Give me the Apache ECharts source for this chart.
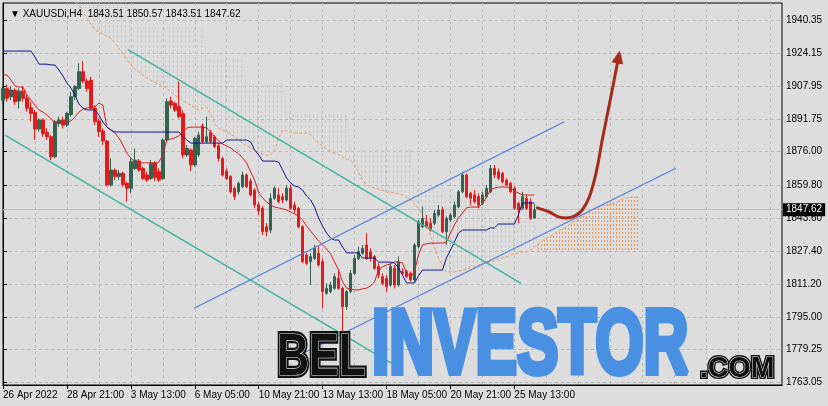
<!DOCTYPE html>
<html>
<head>
<meta charset="utf-8">
<script src="https://cdn.jsdelivr.net/npm/echarts@6/dist/echarts.min.js"></script>
<style>
  html, body { margin: 0; padding: 0; background: #dddddd; }
  #chart { width: 828px; height: 406px; }
</style>
</head>
<body>
<div id="chart"></div>
<script>
// XAUUSDi H4, 26 Apr - 25 May 2022, ichimoku + channels
const xLabels = ['26 Apr 2022', '28 Apr 21:00', '3 May 13:00', '6 May 05:00', '10 May 21:00',
  '13 May 13:00', '18 May 05:00', '20 May 21:00', '25 May 13:00'];
const yTicks = [1940.35, 1924.15, 1907.95, 1891.75, 1876.00, 1859.80, 1843.60, 1827.40, 1811.20, 1795.00, 1779.25, 1763.05];
const lastPrice = 1847.62;

const opens = [
  1901.2,1906.9,1902.9,1906.1,1900.8,1905.6,1902.1,1897.5,1895.2,1887.1,
  1891.5,1885.4,1883.3,1873.5,1889.8,1891.5,1889.0,1894.2,1902.9,1906.9,
  1915.1,1910.5,1911.0,1897.2,1891.0,1886.1,1881.2,1859.7,1867.0,1863.8,
  1865.4,1860.5,1858.1,1867.8,1871.4,1867.8,1864.6,1862.9,1870.3,1866.2,
  1862.9,1881.7,1900.8,1899.6,1898.0,1894.7,1874.4,1876.8,1869.5,1874.4,
  1888.7,1880.9,1885.4,1883.3,1878.9,1872.7,1866.5,1863.8,1858.1,1856.4,
  1858.9,1864.6,1861.6,1857.2,1850.0,1848.3,1839.3,1837.7,1853.2,1854.8,
  1854.0,1852.4,1858.1,1849.9,1848.3,1839.3,1825.5,1822.2,1823.8,1826.3,
  1822.2,1806.8,1807.6,1809.2,1814.1,1809.2,1800.2,1807.6,1816.5,1823.8,
  1826.3,1830.4,1827.1,1824.7,1819.8,1814.9,1814.1,1810.8,1819.0,1810.8,
  1817.3,1817.3,1816.5,1813.3,1829.6,1839.3,1841.8,1841.0,1841.0,1845.0,
  1847.5,1836.9,1842.6,1844.2,1849.1,1856.4,1864.6,1855.6,1854.8,1854.0,
  1850.7,1854.0,1856.4,1867.8,1866.2,1865.4,1862.1,1860.5,1858.1,1850.7,
  1848.3,1853.2,1851.6,1843.51
];
const closes = [
  1906.9,1902.1,1906.1,1900.4,1905.6,1902.1,1897.2,1894.7,1887.1,1891.5,
  1884.9,1883.3,1873.5,1890.7,1891.5,1889.0,1894.7,1902.9,1907.8,1915.1,
  1910.5,1906.9,1897.2,1890.7,1885.8,1881.2,1859.7,1867.0,1863.8,1865.4,
  1860.0,1858.1,1871.1,1871.9,1867.0,1862.9,1862.1,1870.3,1863.3,1862.1,
  1881.7,1900.4,1898.8,1896.3,1893.1,1874.4,1877.6,1869.5,1882.5,1884.1,
  1880.9,1883.3,1880.9,1878.4,1872.7,1864.6,1862.9,1856.4,1854.0,1860.5,
  1864.6,1858.9,1854.8,1849.9,1847.0,1836.9,1836.9,1853.2,1858.1,1851.6,
  1852.4,1858.1,1848.3,1847.5,1839.3,1822.2,1821.4,1824.7,1828.7,1820.6,
  1807.6,1809.2,1810.8,1814.9,1809.2,1800.2,1807.6,1816.5,1823.8,1827.1,
  1828.7,1823.8,1823.8,1819.0,1815.7,1811.6,1810.0,1819.8,1810.8,1822.2,
  1816.5,1814.9,1813.3,1830.4,1841.8,1843.4,1839.3,1837.7,1845.9,1847.5,
  1836.9,1843.4,1845.0,1849.9,1856.4,1864.6,1854.0,1853.2,1851.6,1849.9,
  1854.8,1858.1,1867.8,1864.6,1863.0,1861.3,1859.7,1856.4,1848.3,1847.5,
  1854.0,1848.3,1843.4,1847.62
];
const highs = [
  1908.3,1908.9,1907.8,1906.9,1906.9,1907.8,1903.7,1900.4,1896.3,1892.3,
  1892.3,1887.4,1884.1,1891.5,1893.1,1893.1,1895.5,1905.3,1908.6,1919.2,
  1920.3,1911.8,1912.6,1898.8,1892.3,1887.4,1881.7,1872.7,1867.8,1867.0,
  1866.2,1861.3,1872.7,1877.6,1872.4,1868.7,1866.2,1871.9,1871.4,1867.8,
  1882.5,1902.1,1902.9,1900.4,1910.2,1896.3,1879.2,1877.6,1883.3,1885.8,
  1889.8,1893.1,1886.6,1884.1,1880.1,1873.5,1867.8,1864.6,1858.9,1861.3,
  1866.2,1865.4,1862.9,1858.1,1851.5,1849.5,1841.0,1855.6,1859.0,1858.1,
  1855.6,1859.7,1859.7,1851.6,1849.1,1840.1,1826.3,1826.3,1830.4,1829.6,
  1823.8,1811.6,1812.4,1816.5,1818.1,1810.0,1808.4,1818.1,1825.5,1829.6,
  1830.4,1836.1,1828.7,1825.5,1821.4,1816.5,1815.7,1821.4,1820.6,1824.7,
  1819.0,1818.1,1817.3,1831.2,1842.6,1849.1,1845.0,1843.4,1847.5,1849.9,
  1849.1,1844.2,1845.9,1851.6,1857.3,1866.2,1865.4,1856.4,1857.3,1855.6,
  1856.4,1859.7,1869.5,1869.5,1867.8,1866.2,1863.0,1861.3,1859.0,1851.6,
  1856.4,1854.8,1853.2,1850.57
];
const lows = [
  1899.6,1900.4,1901.2,1898.8,1897.2,1900.4,1895.5,1890.7,1881.7,1885.8,
  1883.3,1881.7,1871.9,1872.7,1888.2,1887.4,1888.2,1893.1,1901.2,1906.1,
  1909.4,1905.3,1896.3,1889.0,1883.3,1879.2,1858.9,1858.9,1862.1,1862.1,
  1858.9,1851.5,1855.6,1867.0,1866.2,1862.1,1861.3,1862.1,1861.6,1861.3,
  1862.1,1880.9,1897.2,1895.5,1892.3,1872.7,1873.5,1866.5,1868.7,1873.5,
  1880.1,1880.1,1880.1,1877.6,1871.1,1863.8,1862.1,1855.6,1852.4,1855.1,
  1858.1,1858.1,1854.0,1848.3,1845.0,1835.3,1834.5,1836.1,1852.4,1850.7,
  1850.7,1851.6,1847.5,1845.9,1838.5,1821.4,1820.6,1810.8,1823.0,1819.8,
  1799.4,1806.0,1806.8,1808.4,1808.4,1788.0,1798.6,1806.8,1815.7,1823.0,
  1825.5,1823.0,1822.2,1818.1,1814.1,1810.8,1807.6,1810.0,1809.2,1810.0,
  1815.7,1814.1,1812.4,1812.4,1828.7,1838.5,1838.5,1836.9,1840.1,1844.2,
  1836.1,1830.4,1841.8,1843.4,1848.3,1855.6,1853.2,1849.9,1850.7,1848.3,
  1849.9,1853.2,1855.6,1863.0,1862.1,1860.5,1858.9,1855.6,1847.5,1841.0,
  1847.5,1847.5,1842.6,1843.51
];

// tenkan-sen (red) and kijun-sen (navy)
const tenkan = [
  1913.5,1913.5,1911.0,1908.1,1907.6,1907.6,1903.7,1901.2,1898.8,1896.4,
  1895.4,1893.9,1892.0,1890.0,1890.0,1890.0,1890.5,1891.0,1892.9,1895.4,
  1896.8,1897.3,1897.8,1897.8,1899.8,1898.8,1888.0,1886.6,1885.1,1882.7,
  1879.3,1875.3,1872.9,1870.9,1870.9,1870.5,1870.5,1870.5,1870.5,1870.9,
  1874.4,1881.7,1882.2,1882.7,1883.7,1885.6,1887.6,1888.0,1888.0,1888.0,
  1888.0,1887.6,1885.6,1883.2,1881.2,1879.7,1878.8,1877.8,1876.3,1874.9,
  1872.9,1870.5,1866.1,1862.1,1855.8,1853.3,1851.4,1849.9,1848.9,1848.5,
  1848.0,1847.5,1846.5,1845.5,1844.5,1842.6,1839.7,1837.2,1834.8,1832.3,
  1830.4,1828.4,1826.0,1822.1,1818.1,1812.3,1809.3,1808.9,1808.4,1808.4,
  1808.9,1809.3,1810.3,1812.3,1818.1,1819.6,1820.6,1821.1,1822.1,1822.1,
  1821.6,1816.7,1814.7,1817.2,1825.5,1830.4,1830.9,1831.3,1831.3,1831.3,
  1831.3,1831.8,1836.2,1840.1,1843.6,1846.0,1848.5,1848.9,1848.9,1848.9,
  1850.4,1853.8,1857.3,1858.2,1858.7,1858.7,1858.7,1858.2,1856.8,1855.8,
  1854.8,1854.8,1854.8,1854.8
];
const kijun = [
  1925.2,1925.2,1925.2,1925.2,1925.2,1925.2,1925.2,1925.2,1922.3,1918.8,
  1918.8,1918.8,1918.4,1918.4,1915.9,1913.0,1909.6,1907.1,1903.7,1899.3,
  1897.3,1896.4,1896.4,1896.4,1893.9,1890.5,1888.1,1886.6,1885.6,1885.6,
  1885.6,1885.6,1885.6,1885.6,1885.6,1885.6,1885.6,1885.6,1885.6,1885.6,
  1885.6,1885.6,1885.6,1885.6,1885.6,1883.6,1881.7,1880.2,1880.2,1880.2,
  1880.2,1880.2,1880.2,1880.2,1880.2,1880.2,1881.7,1881.7,1881.7,1881.7,
  1881.7,1881.7,1880.7,1876.8,1874.4,1871.4,1871.4,1871.4,1871.4,1870.9,
  1867.0,1863.1,1860.7,1859.2,1858.7,1857.2,1854.3,1852.4,1848.9,1843.6,
  1839.6,1836.2,1833.8,1832.8,1832.8,1829.4,1826.5,1826.5,1826.5,1826.5,
  1824.0,1824.0,1824.0,1824.0,1822.0,1822.0,1822.0,1822.0,1821.6,1819.1,
  1815.7,1811.8,1811.8,1811.8,1815.2,1818.1,1818.1,1818.1,1818.1,1818.1,
  1818.1,1824.0,1827.9,1831.8,1836.2,1837.7,1837.7,1837.7,1837.7,1837.7,
  1837.7,1837.7,1838.7,1838.7,1840.6,1840.6,1840.6,1840.6,1840.6,1845.0,
  1850.9,1850.9,1850.9,1850.9
];

// senkou span A / B (shifted 26 bars ahead)
const spanA = [
  null,null,null,null,null,null,null,null,null,null,
  null,null,null,null,null,null,null,null,1948.9,1947.7,
  1944.3,1941.3,1938.4,1935.5,1934.5,1933.5,1932.5,1931.6,1929.1,1926.7,
  1923.7,1920.8,1918.4,1916.4,1915.0,1913.5,1912.0,1911.0,1910.0,1909.1,
  1908.1,1907.1,1905.2,1903.7,1902.2,1900.8,1899.8,1898.8,1897.3,1896.4,
  1897.3,1897.8,1893.9,1889.5,1887.6,1886.6,1885.6,1884.6,1883.2,1881.7,
  1880.2,1878.8,1877.8,1876.8,1875.8,1874.8,1874.4,1874.4,1876.8,1882.7,
  1886.6,1886.1,1885.6,1885.1,1885.1,1885.1,1885.1,1884.1,1882.2,1880.2,
  1878.8,1877.3,1876.3,1875.3,1874.4,1873.4,1872.4,1871.9,1869.5,1866.0,
  1862.1,1859.7,1858.7,1858.2,1857.7,1857.2,1856.2,1856.2,1855.8,1855.3,
  1854.8,1853.8,1852.4,1850.4,1848.4,1845.0,1841.6,1835.2,1828.9,1824.0,
  1820.1,1817.2,1817.2,1817.2,1817.6,1818.1,1818.6,1819.1,1819.6,1820.6,
  1821.1,1821.6,1822.0,1822.5,1823.5,1824.0,1824.5,1825.5,1826.0,1826.5,
  1826.9,1826.9,1827.9,1829.4,1830.9,1832.3,1833.8,1834.8,1835.7,1837.2,
  1838.2,1839.2,1840.6,1842.1,1843.6,1844.6,1846.0,1847.0,1848.4,1848.9,
  1849.4,1849.9,1850.4,1850.9,1851.8,1852.8,1853.3,1853.8,1853.8,1853.8
];
const spanB = [
  null,null,null,null,null,null,null,null,null,null,
  null,null,null,null,null,null,null,null,1949.0,1949.0,
  1949.0,1949.0,1949.0,1949.0,1949.0,1949.0,1949.0,1949.0,1949.0,1949.0,
  1949.0,1949.0,1936.4,1936.4,1936.4,1936.4,1936.4,1936.4,1936.4,1936.4,
  1936.4,1936.4,1936.4,1936.4,1936.4,1936.4,1936.4,1936.4,1936.4,1936.4,
  1936.4,1920.8,1920.8,1920.8,1920.8,1920.8,1920.8,1920.8,1920.8,1920.8,
  1920.8,1908.6,1908.6,1908.6,1908.6,1908.6,1908.6,1908.6,1908.6,1908.6,
  1908.6,1893.9,1893.9,1893.9,1893.9,1893.9,1893.9,1893.9,1893.9,1893.9,
  1893.9,1893.9,1893.9,1893.9,1893.9,1893.9,1893.9,1876.8,1876.8,1876.8,
  1876.8,1876.8,1876.8,1876.8,1876.8,1876.8,1876.8,1876.8,1876.8,1876.8,
  1876.8,1876.8,1876.8,1858.2,1858.2,1858.2,1858.2,1858.2,1858.2,1858.2,
  1858.2,1852.4,1852.4,1852.4,1852.4,1852.4,1852.4,1852.4,1852.4,1852.4,
  1852.4,1852.4,1841.6,1841.6,1841.6,1841.6,1841.6,1841.6,1841.6,1841.6,
  1841.6,1841.6,1841.6,1841.6,1826.9,1826.9,1826.9,1826.9,1826.9,1826.9,
  1826.9,1826.9,1826.9,1826.9,1826.9,1826.9,1826.9,1826.9,1826.9,1826.9,
  1826.9,1826.9,1826.9,1826.9,1826.9,1826.9,1826.9,1826.9,1826.9,1826.9
];

// drawn trend channels: [bar index, price] end points
const tealUpper = [[31.18, 1926.03], [129.68, 1811.64]];
const tealLower = [[0.5, 1884.13], [98.75, 1770.73]];
const blueUpper = [[47.83, 1799.42], [140.5, 1890.64]];
const blueLower = [[74.25, 1776.59], [168.43, 1867.86]];
// forecast arrow
const arrowPath = [[133.75, 1848.5], [136.75, 1846.5], [139.25, 1844.0], [141, 1843.6], [143, 1844.5],
  [145, 1847.5], [146.75, 1853.8], [148.5, 1866.0], [150, 1881.7], [152.25, 1903.7], [154.1, 1922.3]];

const nSlots = 196;
var cats = [];
for (var i = 0; i < nSlots; i++) cats.push(String(i));

var candles = opens.map((o, i) => [o, closes[i], lows[i], highs[i]]);
var cloudBase = spanA.map((a, i) => a == null ? null : Math.min(a, spanB[i]));
var cloudBear = spanA.map((a, i) => a == null ? null : Math.max(spanB[i] - a, 0));
var cloudBull = spanA.map((a, i) => a == null ? null : Math.max(a - spanB[i], 0));

function hatch(color, w, h, dash) {
  var c = document.createElement('canvas');
  c.width = w; c.height = h;
  var ctx = c.getContext('2d');
  ctx.fillStyle = color;
  ctx.fillRect(1, 0, 1, dash);
  return c;
}

var arrowData = arrowPath.map((p, i) => i === arrowPath.length - 1
  ? { value: p, symbol: 'triangle', symbolSize: [12, 13], symbolRotate: -11, itemStyle: { color: '#a52c1c' } }
  : { value: p, symbol: 'none' });

function chan(data, color, width) {
  return {
    type: 'line', xAxisIndex: 1, data: data, symbol: 'none', silent: true, z: 4,
    lineStyle: { color: color, width: width }
  };
}

const FONT = 'Liberation Sans';
var myChart = echarts.init(document.getElementById('chart'));
var option = {
  backgroundColor: '#dddddd',
  animation: false,
  textStyle: { fontFamily: FONT },
  title: {
    text: '\u25BC XAUUSDi,H4  1843.51 1850.57 1843.51 1847.62',
    left: 5, top: 4,
    textStyle: { fontSize: 10, fontWeight: 'normal', color: '#000', fontFamily: FONT }
  },
  grid: { left: 3, right: 46, top: 3, bottom: 21, show: true, borderColor: '#000', borderWidth: 1 },
  xAxis: [
    {
      type: 'category', data: cats, boundaryGap: false,
      axisLine: { lineStyle: { color: '#000' } },
      axisTick: { interval: (idx) => idx % 16 === 0 && idx <= 128, length: 4, lineStyle: { color: '#000' } },
      axisLabel: {
        interval: (idx) => idx % 16 === 0 && idx <= 128,
        formatter: (v, idx) => xLabels[idx / 16] || '',
        align: 'left', color: '#000', fontSize: 10, margin: 5
      },
      splitLine: { show: true, interval: (idx) => idx % 8 === 0 && idx > 0, lineStyle: { color: '#bababa', type: [3, 3] } }
    },
    { type: 'value', min: 0, max: nSlots - 1, show: false }
  ],
  yAxis: {
    type: 'value', position: 'right', min: 1761.9, max: 1948.7,
    axisLine: { show: true, lineStyle: { color: '#000' } },
    axisTick: { show: true, customValues: yTicks, length: 4, lineStyle: { color: '#000' } },
    axisLabel: { customValues: yTicks, formatter: (v) => v.toFixed(2), color: '#000', fontSize: 10, margin: 4 },
    splitLine: { show: true, lineStyle: { color: '#bababa', type: [3, 3] } }
  },
  graphic: [
    { type: 'text', x: 372, y: 348, scaleX: 0.69, z: 100,
      style: { text: 'INVESTOR', font: 'bold 90px "Liberation Sans"', fill: '#4a90e2', stroke: '#4a90e2', lineWidth: 6, verticalAlign: 'middle' } },
    { type: 'text', x: 277, y: 358, scaleX: 0.74, z: 100,
      style: { text: 'BEL', font: 'bold 60px "Liberation Sans"', fill: '#111', stroke: '#111', lineWidth: 6, verticalAlign: 'middle' } },
    { type: 'text', x: 277, y: 358, scaleX: 0.74, z: 101,
      style: { text: 'BEL', font: 'bold 60px "Liberation Sans"', fill: '#111', stroke: '#e4e4e4', lineWidth: 1.2, verticalAlign: 'middle' } },
    { type: 'text', x: 700, y: 369, scaleX: 0.95, z: 100,
      style: { text: '.COM', font: 'bold 30px "Liberation Sans"', fill: '#111', stroke: '#111', lineWidth: 4, verticalAlign: 'middle' } },
    { type: 'text', x: 700, y: 369, scaleX: 0.95, z: 101,
      style: { text: '.COM', font: 'bold 30px "Liberation Sans"', fill: '#111', stroke: '#e4e4e4', lineWidth: 1, verticalAlign: 'middle' } }
  ],
  series: [
    { type: 'line', data: cloudBase, stack: 'cloud', symbol: 'none', silent: true, z: 1, lineStyle: { opacity: 0 } },
    { type: 'line', data: cloudBear, stack: 'cloud', symbol: 'none', silent: true, z: 1, lineStyle: { opacity: 0 },
      areaStyle: { color: { image: hatch('#d6c2da', 4, 5, 3), repeat: 'repeat' }, opacity: 1 } },
    { type: 'line', data: cloudBull, stack: 'cloud', symbol: 'none', silent: true, z: 1, lineStyle: { opacity: 0 },
      areaStyle: { color: { image: hatch('#ee9650', 3, 4, 2), repeat: 'repeat' }, opacity: 1 } },
    { type: 'line', data: spanA, symbol: 'none', silent: true, z: 1, lineStyle: { color: '#ec9a5c', width: 1, type: [3, 2] } },
    { type: 'line', data: spanB, symbol: 'none', silent: true, z: 1, lineStyle: { color: '#d3bcd8', width: 1, type: [1, 2] } },
    {
      type: 'candlestick', data: candles, barWidth: 3, z: 3,
      itemStyle: { color: '#34644f', color0: '#e31b1b', borderColor: '#34644f', borderColor0: '#e31b1b', borderWidth: 1 },
      markLine: {
        silent: true, symbol: ['none', 'none'], z: 1,
        data: [{ yAxis: lastPrice }],
        lineStyle: { color: '#c4c4c4', type: 'solid', width: 1 },
        label: { position: 'end', distance: 1, formatter: lastPrice.toFixed(2), backgroundColor: '#000', color: '#fff', fontSize: 10, padding: [2, 3, 1, 3] }
      }
    },
    { type: 'line', data: tenkan, symbol: 'none', silent: true, z: 4, lineStyle: { color: '#d91c1c', width: 1 } },
    { type: 'line', data: kijun, symbol: 'none', silent: true, z: 4, lineStyle: { color: '#10128f', width: 1 } },
    chan(tealUpper, '#3fb59d', 1.5),
    chan(tealLower, '#3fb59d', 1.5),
    chan(blueUpper, '#4d7fdc', 1.2),
    chan(blueLower, '#4d7fdc', 1.2),
    {
      type: 'line', xAxisIndex: 1, data: arrowData, smooth: 0.4, symbol: 'none', showSymbol: true, silent: true, z: 6,
      lineStyle: { color: '#a52c1c', width: 3, cap: 'round' }
    }
  ]
};
myChart.setOption(option);
</script>
</body>
</html>
